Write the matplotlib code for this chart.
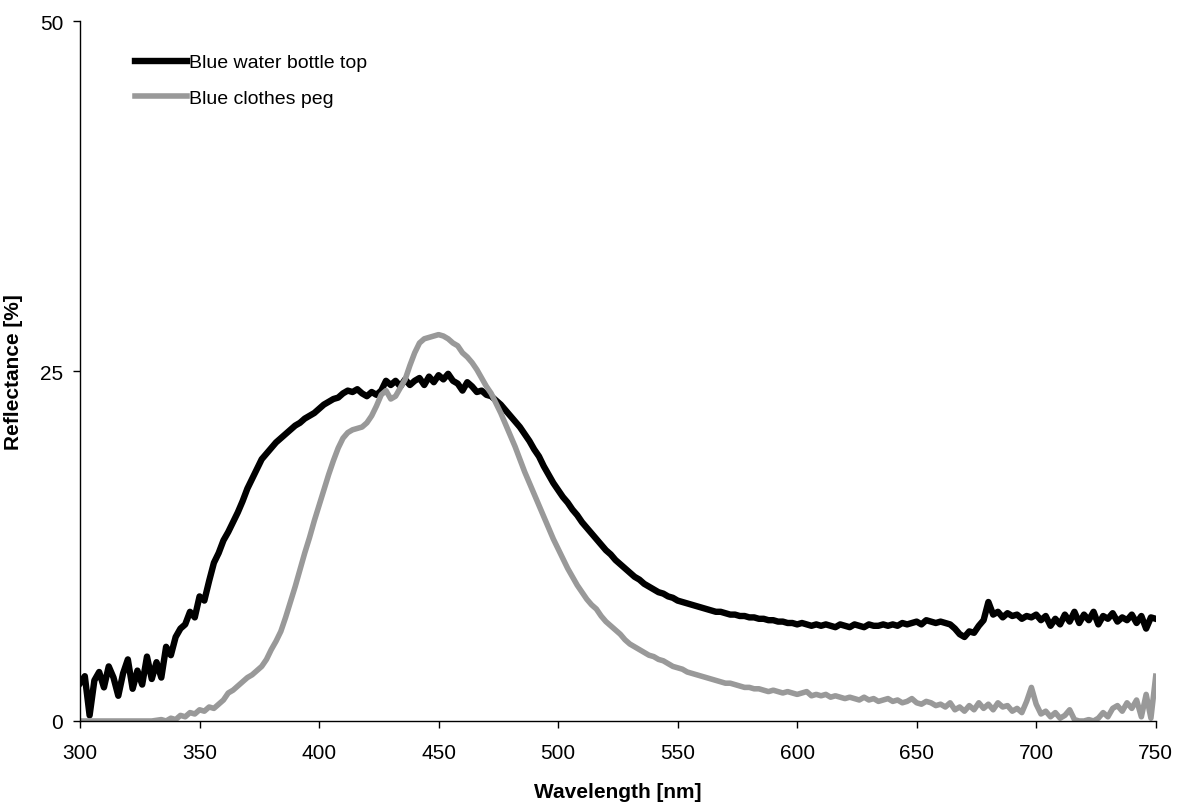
import numpy as np
import matplotlib.pyplot as plt

# wavelength grid, 2 nm steps
wavelength = np.arange(300, 751, 2)

bottle_top = [
    2.7, 3.2, 0.4, 2.9, 3.5, 2.4, 3.9, 3.1, 1.8, 3.4,
    4.4, 2.3, 3.6, 2.6, 4.6, 3.0, 4.2, 3.1, 5.3, 4.7,
    6.0, 6.6, 6.9, 7.8, 7.4, 8.9, 8.6, 10.0, 11.3, 12.0,
    12.9, 13.5, 14.2, 14.9, 15.7, 16.6, 17.3, 18.0, 18.7, 19.1,
    19.5, 19.9, 20.2, 20.5, 20.8, 21.1, 21.3, 21.6, 21.8, 22.0,
    22.3, 22.6, 22.8, 23.0, 23.1, 23.4, 23.6, 23.5, 23.7, 23.4,
    23.2, 23.5, 23.3, 23.6, 24.3, 24.0, 24.3, 23.9, 24.4, 24.0,
    24.3, 24.5, 24.0, 24.6, 24.2, 24.7, 24.4, 24.8, 24.3, 24.1,
    23.6, 24.2, 23.9, 23.5, 23.6, 23.3, 23.2, 22.9, 22.6, 22.2,
    21.8, 21.4, 21.0, 20.5, 20.0, 19.4, 18.9, 18.2, 17.6, 17.0,
    16.5, 16.0, 15.6, 15.1, 14.7, 14.2, 13.8, 13.4, 13.0, 12.6,
    12.2, 11.9, 11.5, 11.2, 10.9, 10.6, 10.3, 10.1, 9.8, 9.6,
    9.4, 9.2, 9.1, 8.9, 8.8, 8.6, 8.5, 8.4, 8.3, 8.2,
    8.1, 8.0, 7.9, 7.8, 7.8, 7.7, 7.6, 7.6, 7.5, 7.5,
    7.4, 7.4, 7.3, 7.3, 7.2, 7.2, 7.1, 7.1, 7.0, 7.0,
    6.9, 7.0, 6.9, 6.8, 6.9, 6.8, 6.9, 6.8, 6.7, 6.9,
    6.8, 6.7, 6.9, 6.8, 6.7, 6.9, 6.8, 6.8, 6.9, 6.8,
    6.9, 6.8, 7.0, 6.9, 7.0, 7.1, 6.9, 7.2, 7.1, 7.0,
    7.1, 7.0, 6.9, 6.6, 6.2, 6.0, 6.4, 6.3, 6.8, 7.2,
    8.5, 7.6, 7.8, 7.4, 7.7, 7.5, 7.6, 7.3, 7.5, 7.4,
    7.6, 7.2, 7.5, 6.8, 7.3, 6.9, 7.6, 7.1, 7.8, 7.0,
    7.6, 7.2, 7.8, 6.9, 7.5, 7.3, 7.7, 7.1, 7.4, 7.2,
    7.6, 7.0, 7.5, 6.6, 7.4, 7.3,
]

clothes_peg = [
    0.0, 0.0, 0.0, 0.0, 0.0, 0.0, 0.0, 0.0, 0.0, 0.0,
    0.0, 0.0, 0.0, 0.0, 0.0, 0.0, 0.05, 0.1, 0.0, 0.2,
    0.1, 0.4, 0.3, 0.6, 0.5, 0.8, 0.7, 1.0, 0.9, 1.2,
    1.5, 2.0, 2.2, 2.5, 2.8, 3.1, 3.3, 3.6, 3.9, 4.4,
    5.1, 5.7, 6.4, 7.4, 8.5, 9.6, 10.8, 12.0, 13.1, 14.3,
    15.4, 16.5, 17.6, 18.6, 19.5, 20.2, 20.6, 20.8, 20.9, 21.0,
    21.3, 21.8, 22.5, 23.3, 23.6, 23.0, 23.2, 23.8, 24.4, 25.4,
    26.3, 27.0, 27.3, 27.4, 27.5, 27.6, 27.5, 27.3, 27.0, 26.8,
    26.3, 26.0, 25.6, 25.1, 24.5, 23.9, 23.4, 22.7, 22.0, 21.2,
    20.4, 19.6, 18.7, 17.8, 17.0, 16.2, 15.4, 14.6, 13.8, 13.0,
    12.3, 11.6, 10.9, 10.3, 9.7, 9.2, 8.7, 8.3, 8.0, 7.5,
    7.1, 6.8, 6.5, 6.2, 5.8, 5.5, 5.3, 5.1, 4.9, 4.7,
    4.6, 4.4, 4.3, 4.1, 3.9, 3.8, 3.7, 3.5, 3.4, 3.3,
    3.2, 3.1, 3.0, 2.9, 2.8, 2.7, 2.7, 2.6, 2.5, 2.4,
    2.4, 2.3, 2.3, 2.2, 2.1, 2.2, 2.1, 2.0, 2.1, 2.0,
    1.9, 2.0, 2.1, 1.8, 1.9, 1.8, 1.9, 1.7, 1.8, 1.7,
    1.6, 1.7, 1.6, 1.5, 1.7, 1.5, 1.6, 1.4, 1.5, 1.6,
    1.4, 1.5, 1.3, 1.4, 1.6, 1.3, 1.2, 1.4, 1.3, 1.1,
    1.2, 1.0, 1.3, 0.8, 1.0, 0.7, 1.1, 0.8, 1.3, 0.9,
    1.2, 0.8, 1.3, 1.0, 1.1, 0.7, 0.9, 0.6, 1.4, 2.4,
    1.2, 0.5, 0.7, 0.3, 0.6, 0.2, 0.4, 0.8, 0.1, 0.0,
    0.0, 0.1, 0.0, 0.2, 0.6, 0.3, 0.9, 1.1, 0.7, 1.3,
    0.9, 1.5, 0.3, 1.9, 0.2, 3.2,
]

x_ticks = [300, 350, 400, 450, 500, 550, 600, 650, 700, 750]
y_ticks = [0, 25, 50]

plt.rcParams["font.family"] = ["Liberation Sans", "DejaVu Sans"]

fig = plt.figure(figsize=(11.84, 8.04), dpi=100)
ax = fig.add_axes([0.0676, 0.102, 0.9085, 0.8706])

ax.plot(wavelength, bottle_top, color="black", lw=4.6, label="Blue water bottle top")
ax.plot(wavelength, clothes_peg, color="#999999", lw=4.0, label="Blue clothes peg")

ax.set_xlim(300, 750)
ax.set_ylim(0, 50)
ax.set_xticks(x_ticks)
ax.set_yticks(y_ticks)
ax.tick_params(direction="out", length=5, width=1, labelsize=15)
ax.tick_params(axis="x", pad=11)
ax.tick_params(axis="y", pad=7)

for side in ["top", "right"]:
    ax.spines[side].set_visible(False)
for side in ["left", "bottom"]:
    ax.spines[side].set_linewidth(1)

ax.set_xlabel("Wavelength [nm]", fontsize=15, fontweight="bold", labelpad=14)
ax.set_ylabel("Reflectance [%]", fontsize=15, fontweight="bold", labelpad=12)

ax.legend(loc="upper left", bbox_to_anchor=(0.042, 0.967), frameon=False,
          fontsize=14, handlelength=2.7, handletextpad=0.1, labelspacing=0.9,
          borderpad=0)

fig.savefig("out.png", dpi=100)
